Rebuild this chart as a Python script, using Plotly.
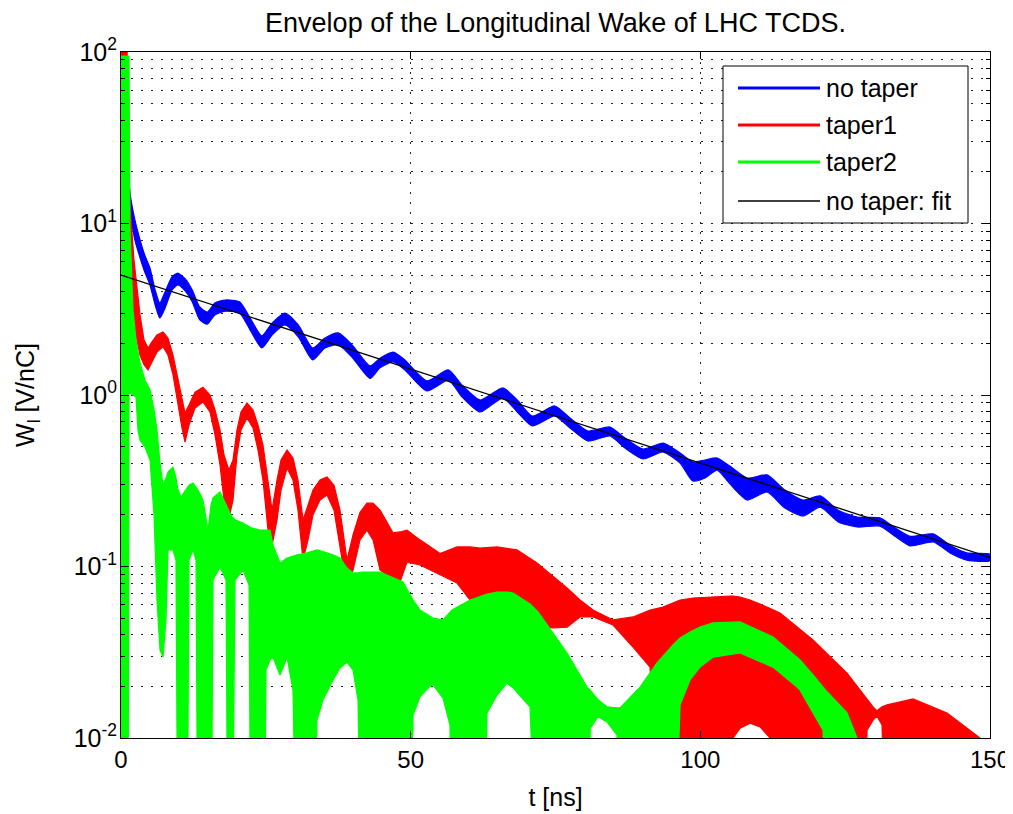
import plotly.graph_objects as go

# ---------------- data ----------------
# no taper (blue): envelope band of |W| versus t [ns]
t_blue = [1.0, 1.6, 2.4, 3.3, 4.1, 5.0, 5.9, 6.7, 7.6, 8.8, 9.8, 11.1, 12.3, 13.6, 14.9,
          16.2, 18.0, 20.5, 22.3, 24.3, 26.1, 28.3, 30.6, 33.1, 35.2, 37.5, 39.9, 43.0,
          44.7, 47.0, 49.0, 52.8, 56.5, 58.9, 62.0, 65.9, 68.4, 71.0, 74.9, 77.5, 80.6,
          84.4, 87.0, 90.1, 93.6, 96.5, 98.7, 100.8, 102.9, 105.1, 108.1, 111.5, 114.6,
          117.7, 120.7, 123.8, 127.1, 131.0, 133.6, 136.2, 140.2, 143.1, 146.0, 150.0]
blue_upper = [26.8, 14.7, 10.5, 8.0, 6.55, 5.5, 4.09, 3.44, 3.99, 4.88, 5.14, 4.75, 4.09,
              3.26, 3.04, 3.44, 3.58, 3.49, 2.81, 2.21, 2.63, 3.00, 2.56, 1.88, 2.15, 2.30,
              1.96, 1.48, 1.64, 1.78, 1.60, 1.21, 1.40, 1.14, 0.935, 1.10, 0.935, 0.754,
              0.863, 0.734, 0.617, 0.651, 0.561, 0.484, 0.525, 0.459, 0.407, 0.418, 0.429,
              0.385, 0.328, 0.342, 0.279, 0.244, 0.258, 0.213, 0.194, 0.192, 0.168, 0.150,
              0.155, 0.133, 0.120, 0.118]
blue_lower = [14.7, 11.2, 8.0, 6.29, 5.22, 4.38, 3.35, 2.81, 3.21, 4.09, 4.38, 4.04, 3.49,
              2.74, 2.59, 2.93, 3.08, 3.00, 2.39, 1.88, 2.24, 2.56, 2.18, 1.60, 1.88, 1.96,
              1.66, 1.25, 1.44, 1.56, 1.40, 1.055, 1.22, 0.973, 0.796, 0.960, 0.796, 0.660,
              0.754, 0.642, 0.539, 0.577, 0.490, 0.424, 0.465, 0.401, 0.315, 0.328, 0.365,
              0.303, 0.244, 0.272, 0.219, 0.197, 0.222, 0.182, 0.170, 0.172, 0.150, 0.132,
              0.139, 0.120, 0.109, 0.108]

# taper1 (red): envelope band (0.001 = below the axis floor)
t_red = [0, 1.04, 1.21, 1.73, 2.24, 2.76, 3.28, 3.97, 4.66, 5.35, 6.21, 7.25, 8.11, 8.98,
         9.84, 10.53, 11.05, 11.74, 12.77, 14.15, 15.36, 16.23, 17.09, 17.78, 18.64, 19.33,
         20.02, 20.71, 21.75, 22.79, 23.65, 24.51, 25.38, 26.07, 26.93, 27.62, 28.66, 29.69,
         30.55, 31.42, 32.28, 33.14, 34.35, 35.56, 36.77, 37.80, 39.01, 40.05, 41.26, 42.46,
         43.50, 44.71, 46.95, 48.16, 49.37, 51.61, 55.07, 58.00, 60.25, 61.97, 64.91, 68.36,
         71.81, 74.57, 76.99, 79.23, 81.49, 84.93, 88.38, 91.32, 93.56, 96.50, 98.74, 105.13,
         105.65, 106.86, 108.58, 110.31, 112.03, 112.55, 113.76, 119.45, 125.32, 127.91,
         128.78, 129.81, 130.50, 131.36, 132.23, 136.72, 142.59, 147.07, 148.28, 148.80]
red_upper = [120, 120, 23.4, 10.5, 6.12, 4.09, 2.93, 2.09, 1.88, 2.04, 2.24, 2.33, 2.15,
             1.71, 1.22, 0.935, 0.785, 0.874, 1.04, 1.11, 1.0, 0.818, 0.625, 0.447, 0.365,
             0.418, 0.625, 0.796, 0.898, 0.818, 0.668, 0.511, 0.319, 0.213, 0.319, 0.418,
             0.478, 0.429, 0.319, 0.187, 0.228, 0.279, 0.319, 0.333, 0.298, 0.213, 0.109,
             0.153, 0.207, 0.234, 0.234, 0.213, 0.157, 0.159, 0.163, 0.143, 0.119, 0.130,
             0.130, 0.128, 0.130, 0.125, 0.105, 0.088, 0.0749, 0.0638, 0.0558, 0.0488,
             0.0508, 0.0558, 0.0580, 0.0638, 0.0655, 0.0673, 0.0673, 0.0664, 0.0638, 0.0604,
             0.0573, 0.0560, 0.0536, 0.0373, 0.0239, 0.0183, 0.0167, 0.0152, 0.0144, 0.0152,
             0.0156, 0.0169, 0.0140, 0.0107, 0.0100, 0.001]
red_lower = [0.001, 0.001, 3.58, 3.58, 2.74, 2.09, 1.71, 1.50, 1.40, 1.56, 1.78, 1.91, 1.71,
             1.31, 0.874, 0.642, 0.532, 0.668, 0.840, 0.910, 0.796, 0.585, 0.391, 0.244,
             0.192, 0.244, 0.447, 0.625, 0.734, 0.642, 0.478, 0.319, 0.163, 0.133, 0.187,
             0.279, 0.375, 0.319, 0.213, 0.109, 0.143, 0.200, 0.244, 0.261, 0.213, 0.133,
             0.0730, 0.0954, 0.143, 0.163, 0.143, 0.0954, 0.0834, 0.0812, 0.106, 0.102,
             0.0892, 0.0801, 0.0638, 0.0596, 0.0558, 0.0488, 0.0443, 0.0438, 0.0443, 0.0508,
             0.0508, 0.0456, 0.0339, 0.0259, 0.001, 0.001, 0.001, 0.001, 0.0100, 0.0114,
             0.0122, 0.0116, 0.0100, 0.001, 0.001, 0.001, 0.001, 0.001, 0.0111, 0.0127,
             0.0134, 0.0119, 0.001, 0.001, 0.001, 0.001, 0.001, 0.001]

# taper2 (green): envelope band (0.001 = below the axis floor)
t_green = [0, 1.21, 1.38, 1.55, 1.73, 2.07, 2.59, 2.93, 3.28, 4.14, 5.01, 5.70, 6.21, 6.73,
           7.25, 7.77, 8.11, 8.98, 9.49, 9.84, 10.36, 11.39, 11.74, 12.43, 12.95, 13.29,
           14.15, 15.02, 15.54, 15.88, 17.09, 18.13, 18.47, 19.16, 19.33, 19.68, 21.06,
           22.10, 22.44, 23.99, 24.68, 25.03, 25.72, 26.24, 27.45, 28.66, 29.69, 30.38,
           32.11, 33.14, 33.83, 34.87, 36.60, 37.80, 39.01, 40.05, 40.91, 41.60, 44.71,
           48.68, 49.89, 50.41, 51.61, 53.34, 53.86, 55.58, 56.79, 57.14, 60.25, 62.49,
           63.18, 64.91, 66.63, 67.67, 70.60, 71.98, 74.57, 76.99, 80.44, 81.00, 82.34,
           83.89, 85.62, 86.14, 89.59, 92.53, 95.29, 96.50, 98.22, 99.95, 102.19, 106.86,
           112.55, 116.69, 117.21, 119.45, 121.18, 121.87, 125.32, 127.05, 127.22]
green_upper = [94.8, 94.8, 94.8, 9.17, 5.89, 3.13, 2.09, 1.84, 1.54, 1.22, 1.07, 0.818,
               0.625, 0.401, 0.298, 0.328, 0.355, 0.380, 0.328, 0.279, 0.254, 0.287, 0.298,
               0.307, 0.291, 0.279, 0.244, 0.163, 0.228, 0.251, 0.272, 0.228, 0.213, 0.194,
               0.192, 0.187, 0.179, 0.170, 0.168, 0.163, 0.163, 0.163, 0.163, 0.133, 0.105,
               0.112, 0.115, 0.117, 0.120, 0.123, 0.125, 0.122, 0.117, 0.112, 0.098, 0.0917,
               0.0917, 0.0929, 0.0929, 0.0812, 0.0682, 0.0638, 0.0558, 0.0508, 0.0500,
               0.0488, 0.0543, 0.0558, 0.0638, 0.0682, 0.0691, 0.0710, 0.0710, 0.0701,
               0.0604, 0.0543, 0.0410, 0.0313, 0.0198, 0.0190, 0.0167, 0.0152, 0.0150,
               0.0150, 0.0198, 0.0274, 0.0349, 0.0383, 0.0415, 0.0443, 0.0469, 0.0475,
               0.0388, 0.0296, 0.0285, 0.0233, 0.0198, 0.0186, 0.0140, 0.0100, 0.001]
green_lower = [0.001, 0.001, 1.027, 1.027, 1.027, 1.0, 0.973, 0.625, 0.547, 0.497, 0.418,
               0.200, 0.0638, 0.0326, 0.0296, 0.0488, 0.125, 0.125, 0.109, 0.001, 0.001,
               0.001, 0.109, 0.125, 0.109, 0.001, 0.001, 0.001, 0.001, 0.0834, 0.0993,
               0.0834, 0.001, 0.001, 0.001, 0.0834, 0.0954, 0.0780, 0.001, 0.001, 0.001,
               0.0249, 0.0285, 0.0296, 0.0233, 0.0296, 0.0190, 0.001, 0.001, 0.001, 0.0127,
               0.0167, 0.0218, 0.0256, 0.0277, 0.0249, 0.0167, 0.001, 0.001, 0.001, 0.001,
               0.0136, 0.0174, 0.0201, 0.0204, 0.0171, 0.0119, 0.001, 0.001, 0.001, 0.0140,
               0.0178, 0.0209, 0.0196, 0.0152, 0.001, 0.001, 0.001, 0.001, 0.0114, 0.0133,
               0.0124, 0.0104, 0.001, 0.001, 0.001, 0.001, 0.0156, 0.0218, 0.0259, 0.0296,
               0.0313, 0.0259, 0.0198, 0.0190, 0.0140, 0.0111, 0.001, 0.001, 0.001, 0.001]

# no taper: exponential fit (straight on the log axis)
t_fit = [0, 50, 100, 150]
fit_values = [5.0, 1.42, 0.401, 0.113]

series_names = ["no taper", "taper1", "taper2", "no taper: fit"]
series_colors = ["#0000FF", "#FF0000", "#00FF00", "#000000"]

x_ticks = [0, 50, 100, 150]
y_ticks = [0.01, 0.1, 1, 10, 100]
y_tick_text = ["10<sup>-2</sup>", "10<sup>-1</sup>", "10<sup>0</sup>",
               "10<sup>1</sup>", "10<sup>2</sup>"]
y_minor_ticks = [m * 10.0 ** k for k in range(-2, 2) for m in range(2, 10)]

FONT = "Liberation Sans, Arial, Helvetica, sans-serif"
FS = 25
GRID = dict(showgrid=True, gridcolor="#222222", gridwidth=1, griddash="2px,8px")

# ---------------- figure ----------------
fig = go.Figure()


def add_band(t, up, lo, color, name, shape="linear"):
    xs = list(t) + list(t)[::-1]
    ys = list(up) + list(lo)[::-1]
    fig.add_trace(go.Scatter(
        x=xs, y=ys, mode="lines", fill="toself", fillcolor=color,
        line=dict(color=color, width=1.2, shape=shape, smoothing=0.6),
        name=name, showlegend=False, hoverinfo="skip"))


add_band(t_blue, blue_upper, blue_lower, series_colors[0], series_names[0], "spline")
add_band(t_red, red_upper, red_lower, series_colors[1], series_names[1])
add_band(t_green, green_upper, green_lower, series_colors[2], series_names[2])
fig.add_trace(go.Scatter(x=t_fit, y=fit_values, mode="lines",
                         line=dict(color=series_colors[3], width=1.3),
                         name=series_names[3], showlegend=False))

# page has an 8px body margin: figure is sized so the plot box lands at
# x 121..990, y 52..738 of the window
fig.update_layout(
    width=1005, height=806,
    margin=dict(l=113, r=23, t=44, b=76),
    paper_bgcolor="white", plot_bgcolor="white",
    font=dict(family=FONT, size=FS, color="black"),
    title=dict(text="Envelop of the Longitudinal Wake of LHC TCDS.",
               x=0.5, xref="paper", xanchor="center",
               y=1 - 15 / 806, yref="container", yanchor="middle",
               font=dict(family=FONT, size=27, color="black")),
    showlegend=False,
)

fig.update_xaxes(
    range=[0, 150], tickvals=x_ticks, ticks="inside", ticklen=7,
    tickcolor="black", showline=True, linecolor="black", linewidth=1,
    mirror="allticks", zeroline=False, automargin=False,
    tickfont=dict(size=24), ticklabeloverflow="allow",
    title=dict(text="t [ns]", standoff=16, font=dict(size=FS)), **GRID)

fig.update_yaxes(
    type="log", range=[-2, 2], tickvals=y_ticks, ticktext=y_tick_text,
    ticks="inside", ticklen=8, tickcolor="black", showline=True,
    linecolor="black", linewidth=1, mirror="allticks", zeroline=False,
    automargin=False, tickfont=dict(size=FS), ticklabelstandoff=-2,
    minor=dict(tickvals=y_minor_ticks, ticks="inside", ticklen=4,
               tickcolor="black", **GRID),
    title=dict(text="W<sub>l</sub> [V/nC]", standoff=31, font=dict(size=FS)),
    **GRID)

# legend box drawn like the reference (long line samples)
px_x = lambda p: (p - 121) / 869.0
px_y = lambda p: (738 - p) / 686.0
shapes = [dict(type="rect", xref="paper", yref="paper", x0=px_x(723), x1=px_x(968),
               y0=px_y(223), y1=px_y(66), line=dict(color="black", width=1),
               fillcolor="white", layer="above")]
annotations = []
rows = [88, 125, 162, 201]
widths = [3, 3, 3, 1.3]
for name, color, row, w in zip(series_names, series_colors, rows, widths):
    shapes.append(dict(type="line", xref="paper", yref="paper", x0=px_x(738),
                       x1=px_x(820), y0=px_y(row), y1=px_y(row),
                       line=dict(color=color, width=w), layer="above"))
    annotations.append(dict(text=name, xref="paper", yref="paper", x=px_x(824),
                            y=px_y(row), xanchor="left", yanchor="middle",
                            showarrow=False, font=dict(family=FONT, size=FS,
                                                       color="black")))
fig.update_layout(shapes=shapes, annotations=annotations)

fig.write_html("out.html")
